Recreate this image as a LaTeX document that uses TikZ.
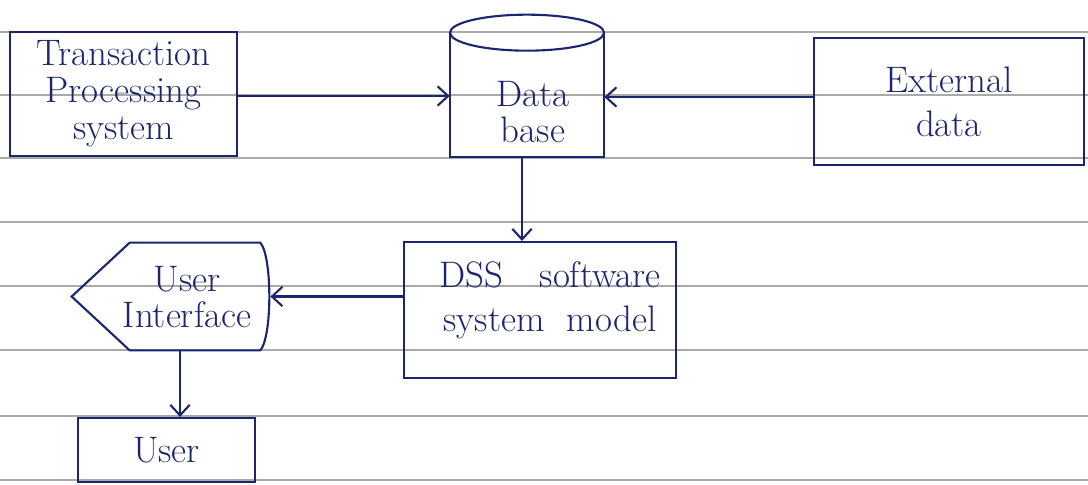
\documentclass[tikz,border=0pt]{standalone}
\usetikzlibrary{arrows.meta,calc}
\definecolor{ink}{RGB}{28,38,112}
\definecolor{rule}{RGB}{170,170,170}
\begin{document}
\begin{tikzpicture}[x=0.02cm,y=-0.02cm,
  ink/.style={draw=ink,line width=1.2pt},
  box/.style={ink,rectangle,inner sep=0pt,align=center,text=ink,font=\fontsize{21}{21}\selectfont},
  lbl/.style={inner sep=0pt,align=center,text=ink,font=\fontsize{21}{21}\selectfont},
  shapebox/.style={rectangle,inner sep=0pt},
  conn/.style={ink,-{Straight Barb[length=6pt,width=11pt]}},
  ruleline/.style={draw=rule,line width=0.6pt}]
\useasboundingbox[fill=white] (0,0) rectangle (1088,484);
% ruled paper
\foreach \y in {32,95,158,222,286,350,416,480}
  \draw[ruleline] (0,\y) -- (1088,\y);
% boxes
\node[box,minimum width=4.54cm,minimum height=2.48cm] (tps) at (123.5,94) {Transaction\\Processing\\system};
\node[box,minimum width=5.4cm,minimum height=2.54cm] (ext) at (949,101.5) {External\\[4pt]data};
\node[box,minimum width=5.44cm,minimum height=2.72cm] (dss) at (540,310) {};
\node[lbl] (dssl) at (550,300) {DSS\quad software\\[4pt]system\ \ model};
\node[box,minimum width=3.54cm,minimum height=1.28cm] (user) at (166.5,450) {User};
% database cylinder
\node[shapebox,minimum width=3.08cm,minimum height=2.84cm] (db) at (527,86) {};
\draw[ink] ($(db.north west)+(0,18)$) -- (db.south west) -- (db.south east) -- ($(db.north east)+(0,18)$);
\draw[ink] ($(db.north)+(0,18)$) ellipse [x radius=77,y radius=18];
\node[lbl] (dbl) at (533,112) {Data\\base};
% user interface (display shape)
\node[shapebox,minimum width=3.96cm,minimum height=2.14cm] (ui) at (171,296.5) {};
\draw[ink] (ui.west) -- ($(ui.north west)+(58,0)$) -- ($(ui.north east)+(-10,0)$)
  .. controls ($(ui.east)+(2,-40)$) and ($(ui.east)+(2,40)$) .. ($(ui.south east)+(-10,0)$)
  -- ($(ui.south west)+(58,0)$) -- cycle;
\node[lbl] (uil) at (187,297) {User\\Interface};
% connectors
\draw[conn] (tps.east |- 0,96) -- (db.west |- 0,96);
\draw[conn] (ext.west |- 0,97) -- (db.east |- 0,97);
\draw[conn] (db.south -| 522,0) -- (dss.north -| 522,0);
\draw[conn] (dss.west |- ui.east) -- (ui.east);
\draw[conn] (ui.south -| 180,0) -- (user.north -| 180,0);
\end{tikzpicture}
\end{document}
